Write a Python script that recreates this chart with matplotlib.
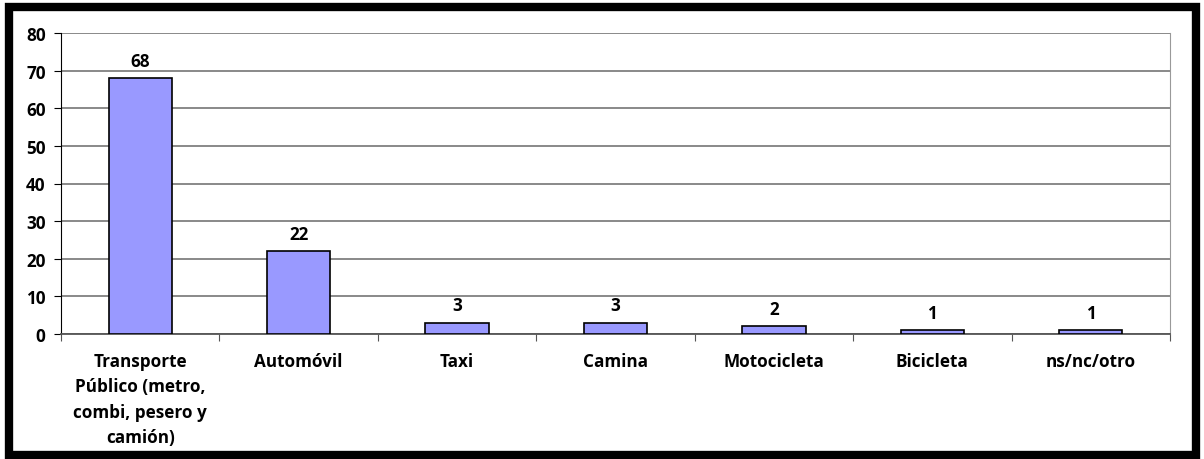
import matplotlib.pyplot as plt
from matplotlib.patches import Rectangle

categorias = ["Transporte\nPúblico (metro,\ncombi, pesero y\ncamión)",
              "Automóvil", "Taxi", "Camina", "Motocicleta", "Bicicleta", "ns/nc/otro"]
porcentajes = [68, 22, 3, 3, 2, 1, 1]
y_ticks = [0, 10, 20, 30, 40, 50, 60, 70, 80]

plt.rcParams['font.family'] = ['Open Sans', 'DejaVu Sans']
plt.rcParams['font.weight'] = 'bold'
FS = 12.3

fig = plt.figure(figsize=(12.04, 4.60), dpi=100)
W, H = 1204, 460
ax = fig.add_axes([61 / W, 1 - 335 / H, (1170 - 61) / W, (335 - 34) / H])

x = range(len(categorias))
bars = ax.bar(x, porcentajes, width=0.4, color='#9999ff', edgecolor='black',
              linewidth=1.2, zorder=3)
for b, v in zip(bars, porcentajes):
    ax.text(b.get_x() + b.get_width() / 2, v + 2.2, str(v), ha='center', va='bottom',
            fontsize=FS, fontweight='bold')

ax.set_xlim(-0.5, len(categorias) - 0.5)
ax.set_ylim(0, 80)
ax.set_yticks(y_ticks)
ax.set_yticklabels([str(t) for t in y_ticks], fontsize=FS, fontweight='bold')
ax.yaxis.grid(True, color='#808080', linewidth=1.3, zorder=0)

# ticks en los límites de cada categoría, etiquetas centradas
ax.set_xticks([i + 0.5 for i in range(-1, len(categorias))])
ax.set_xticklabels([])
ax.set_xticks(list(x), minor=True)
ax.set_xticklabels(categorias, minor=True, fontsize=FS, fontweight='bold', va='top',
                   linespacing=1.52)
ax.tick_params(axis='x', which='minor', length=0, pad=13)
ax.tick_params(axis='x', which='major', length=5, direction='out', color='#555555')
ax.tick_params(axis='y', length=5, direction='out', pad=6)

ax.spines['top'].set_visible(False)
ax.spines['right'].set_color('#999999')
ax.spines['left'].set_color('black')
ax.spines['bottom'].set_color('#555555')
ax.spines['bottom'].set_linewidth(1.3)

# marco negro exterior
fig.patches.append(Rectangle((9 / W, 4 / H), (1196 - 9) / W, (452 - 4) / H,
                             transform=fig.transFigure, fill=False,
                             edgecolor='black', linewidth=6))

fig.savefig('out.png', dpi=100)
